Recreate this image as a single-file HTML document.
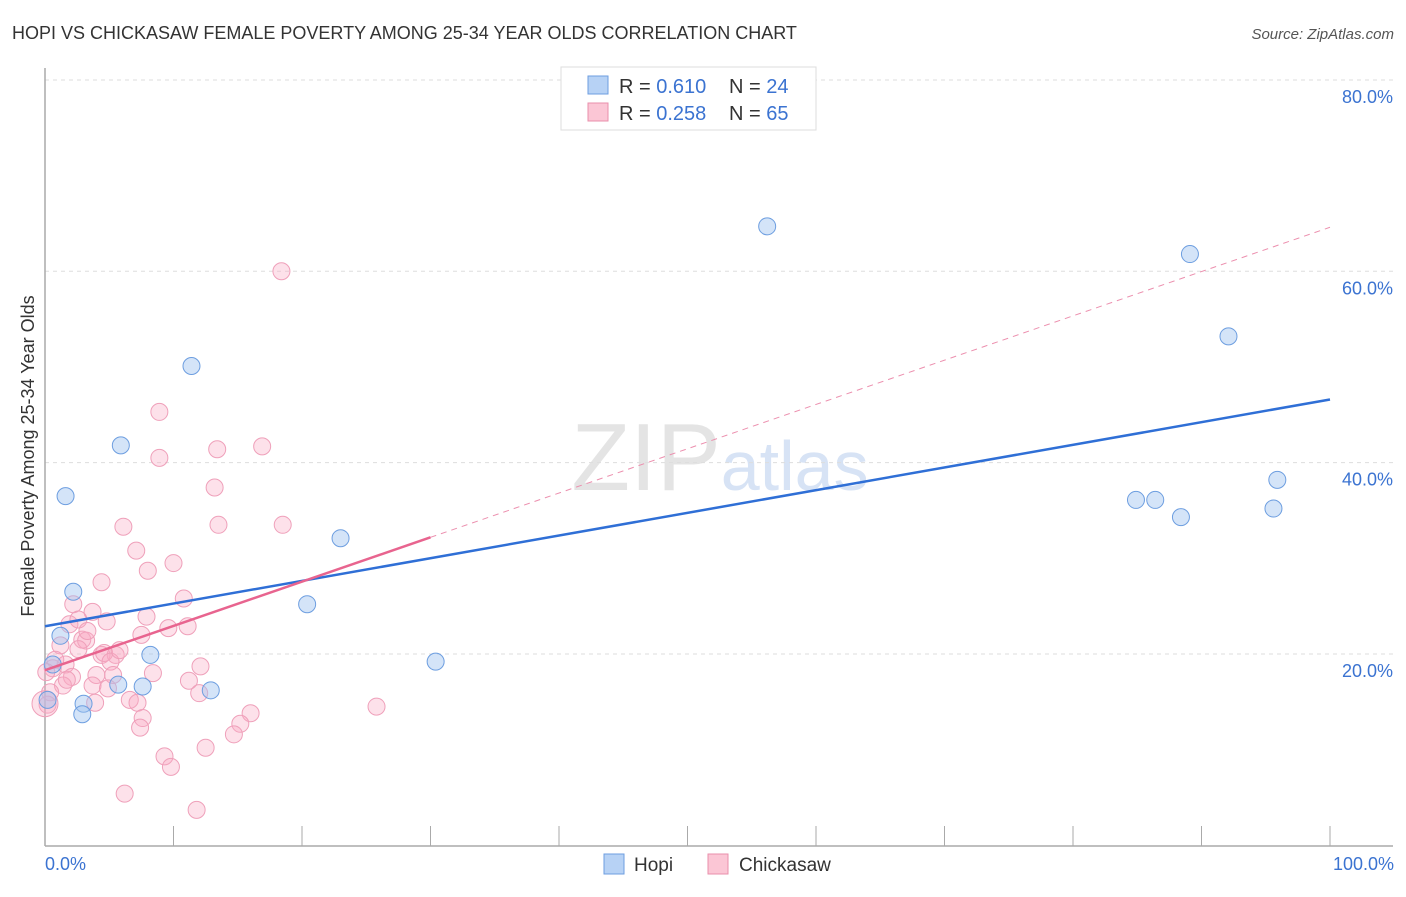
<!DOCTYPE html>
<html><head><meta charset="utf-8"><style>
body{margin:0;background:#fff;font-family:"Liberation Sans",sans-serif;}
svg text{font-family:"Liberation Sans",sans-serif;}
</style></head><body>
<svg id="chart" width="1406" height="892" xmlns="http://www.w3.org/2000/svg">
<text x="12" y="39" font-size="18" fill="#333">HOPI VS CHICKASAW FEMALE POVERTY AMONG 25-34 YEAR OLDS CORRELATION CHART</text>
<text x="1394" y="39" font-size="15" fill="#555" font-style="italic" text-anchor="end">Source: ZipAtlas.com</text>
<text x="720" y="490" font-size="96" fill="#e4e4e4" text-anchor="middle" font-family="Liberation Serif">ZIP<tspan fill="#d7e3f5" font-family="Liberation Sans" font-size="70">atlas</tspan></text>
<g id="grid"></g>
<g id="axes"></g>
<g id="points"></g>
<g id="lines"></g>
<text transform="translate(34,456) rotate(-90)" font-size="18" fill="#333" text-anchor="middle">Female Poverty Among 25-34 Year Olds</text>
<text x="45" y="870" font-size="18" fill="#3b73d1">0.0%</text>
<text x="1394" y="870" font-size="18" fill="#3b73d1" text-anchor="end">100.0%</text>
<g>
<rect x="561" y="67" width="255" height="63" fill="#fff" stroke="#ddd"/>
<rect x="588" y="76" width="20" height="18" fill="#b7d2f5" stroke="#6d9ee0"/>
<rect x="588" y="103" width="20" height="18" fill="#fbc6d5" stroke="#ea8fab"/>
<text x="619" y="93" font-size="20" fill="#333">R = <tspan fill="#3b73d1">0.610</tspan></text>
<text x="729" y="93" font-size="20" fill="#333">N = <tspan fill="#3b73d1">24</tspan></text>
<text x="619" y="120" font-size="20" fill="#333">R = <tspan fill="#3b73d1">0.258</tspan></text>
<text x="729" y="120" font-size="20" fill="#333">N = <tspan fill="#3b73d1">65</tspan></text>
</g>
<g>
<rect x="604" y="854" width="20" height="20" fill="#b7d2f5" stroke="#6d9ee0"/>
<text x="634" y="871" font-size="19" fill="#333">Hopi</text>
<rect x="708" y="854" width="20" height="20" fill="#fbc6d5" stroke="#ea8fab"/>
<text x="739" y="871" font-size="19" fill="#333">Chickasaw</text>
</g>
</svg>
<script>
const yTicks=[20,40,60,80];
const yTickLabels=["20.0%","40.0%","60.0%","80.0%"];
const xTicks=[0,10,20,30,40,50,60,70,80,90,100];
const hopiX=[56.2,89.1,92.1,11.4,5.9,1.6,84.9,86.4,88.4,95.9,95.6,23.0,2.2,20.4,1.2,8.2,30.4,0.6,5.7,7.6,12.9,3.0,2.9,0.2];
const hopiY=[64.7,61.8,53.2,50.1,41.8,36.5,36.1,36.1,34.3,38.2,35.2,32.1,26.5,25.2,21.9,19.9,19.2,18.9,16.8,16.6,16.2,14.8,13.7,15.2];
const chickX=[18.4,8.9,8.9,13.4,16.9,13.2,6.1,13.5,18.5,7.1,10.0,8.0,4.4,10.8,2.2,3.7,7.9,4.8,1.9,11.1,9.6,7.5,2.9,3.2,1.2,2.6,4.4,5.5,4.6,5.1,1.6,0.6,8.4,4.0,5.3,2.1,11.2,12.1,1.4,3.7,0.4,12.0,6.6,3.9,7.2,0.2,25.8,16.0,7.6,15.2,14.7,7.4,12.5,9.3,9.8,6.2,11.8,0.8,2.6,1.7,3.3,5.8,0.1,4.9,0];
const chickY=[60.0,45.3,40.5,41.4,41.7,37.4,33.3,33.5,33.5,30.8,29.5,28.7,27.5,25.8,25.2,24.4,23.9,23.4,23.1,22.9,22.7,22.0,21.5,21.4,20.9,20.5,19.9,19.9,20.1,19.2,18.9,18.5,18.0,17.8,17.8,17.6,17.2,18.7,16.7,16.7,16.0,15.9,15.2,14.9,14.9,14.7,14.5,13.8,13.3,12.7,11.6,12.3,10.2,9.3,8.2,5.4,3.7,19.4,23.6,17.3,22.4,20.4,18.1,16.4,14.8];
const hopiTrend=[22.9,46.6];
const chickTrend=[18.3,64.6];
const chickSolidEnd=30;
const NS="http://www.w3.org/2000/svg";
const X=v=>45+v*12.85, Y=v=>845.3-v*9.567;
function mk(tag,attrs,parent){const e=document.createElementNS(NS,tag);for(const k in attrs)e.setAttribute(k,attrs[k]);parent.appendChild(e);return e;}
const grid=document.getElementById('grid'),axes=document.getElementById('axes'),pts=document.getElementById('points'),lines=document.getElementById('lines');
yTicks.forEach((t,i)=>{
 const l=mk('line',{x1:45,x2:1393,y1:Y(t),y2:Y(t),stroke:'#ddd','stroke-dasharray':'4,4'},grid);
 
 
 const tx=mk('text',{x:1393,y:Y(t)+23,'font-size':18,fill:'#3b73d1','text-anchor':'end'},axes);
 tx.textContent=yTickLabels[i];
 
 
});
let a=mk('line',{x1:45,x2:45,y1:68,y2:846,stroke:'#aaa','stroke-width':1.5},axes);


a=mk('line',{x1:45,x2:1393,y1:846,y2:846,stroke:'#aaa','stroke-width':1.5},axes);


xTicks.forEach(t=>{
 const l=mk('line',{x1:X(t),x2:X(t),y1:826,y2:846,stroke:'#aaa'},axes);
 
 
});
chickX.forEach((v,i)=>{
 const r=(i===chickX.length-1)?13:8.5;
 const c=mk('circle',{cx:X(v),cy:Y(chickY[i]),r:r,fill:'rgba(248,170,195,0.35)',stroke:'#efa0ba','stroke-width':1},pts);
 
 
});
hopiX.forEach((v,i)=>{
 const c=mk('circle',{cx:X(v),cy:Y(hopiY[i]),r:8.5,fill:'rgba(160,196,240,0.45)',stroke:'#6d9ee0','stroke-width':1},pts);
 
 
});
const cy=x=>chickTrend[0]+(chickTrend[1]-chickTrend[0])*x/100;
let ln=mk('line',{x1:X(chickSolidEnd),y1:Y(cy(chickSolidEnd)),x2:X(100),y2:Y(chickTrend[1]),stroke:'#ec8fae','stroke-width':1,'stroke-dasharray':'6,5'},lines);


ln=mk('line',{x1:X(0),y1:Y(hopiTrend[0]),x2:X(100),y2:Y(hopiTrend[1]),stroke:'#2f6fd6','stroke-width':2.5},lines);


ln=mk('line',{x1:X(0),y1:Y(chickTrend[0]),x2:X(chickSolidEnd),y2:Y(cy(chickSolidEnd)),stroke:'#e8648f','stroke-width':2.5},lines);


</script>
</body></html>
